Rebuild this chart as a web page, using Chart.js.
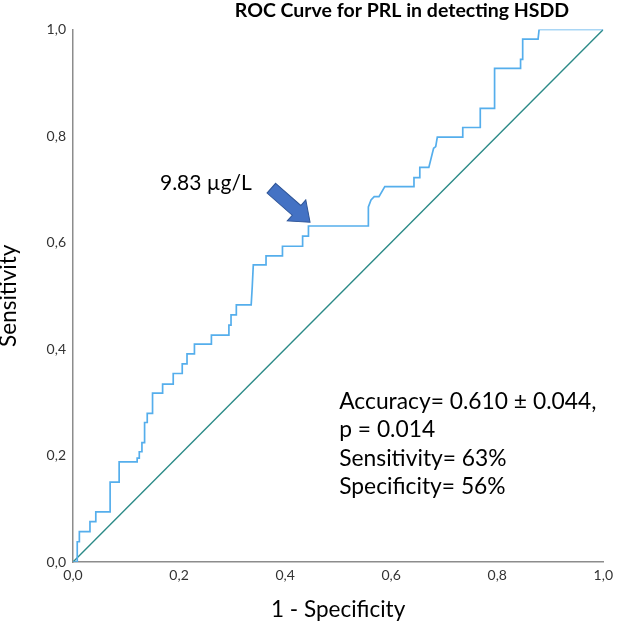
<!DOCTYPE html>
<html>
<head>
<meta charset="utf-8">
<script src="https://cdn.jsdelivr.net/npm/chart.js@4.4.1/dist/chart.umd.min.js"></script>
<style>
  html, body { margin: 0; padding: 0; background: #fff; }
  #wrap { width: 618px; height: 626px; }
</style>
</head>
<body>
<div id="wrap"><canvas id="rocChart"></canvas></div>
<script>
// ROC curve vertices (1 - specificity, sensitivity)
const fpr = [0, 0.008, 0.008, 0.012, 0.012, 0.032, 0.032, 0.043, 0.043, 0.070, 0.070,
  0.087, 0.087, 0.121, 0.121, 0.125, 0.125, 0.130, 0.130, 0.135, 0.135, 0.140, 0.140,
  0.150, 0.150, 0.169, 0.169, 0.189, 0.189, 0.206, 0.206, 0.215, 0.215, 0.229, 0.229,
  0.261, 0.261, 0.294, 0.294, 0.298, 0.298, 0.308, 0.308, 0.336, 0.338, 0.340, 0.364,
  0.364, 0.395, 0.395, 0.433, 0.433, 0.444, 0.444, 0.557, 0.557, 0.562, 0.568, 0.577,
  0.588, 0.643, 0.643, 0.654, 0.654, 0.671, 0.680, 0.684, 0.687, 0.735, 0.735, 0.768,
  0.768, 0.795, 0.795, 0.843, 0.844, 0.848, 0.848, 0.877, 0.879, 1.0];
const tpr = [0, 0, 0.038, 0.038, 0.057, 0.057, 0.076, 0.076, 0.094, 0.094, 0.150,
  0.150, 0.188, 0.188, 0.195, 0.195, 0.207, 0.207, 0.224, 0.224, 0.262, 0.262, 0.279,
  0.279, 0.317, 0.317, 0.334, 0.334, 0.354, 0.354, 0.372, 0.372, 0.391, 0.391, 0.409,
  0.409, 0.426, 0.426, 0.445, 0.445, 0.464, 0.464, 0.483, 0.483, 0.517, 0.558, 0.558,
  0.575, 0.575, 0.593, 0.593, 0.612, 0.612, 0.631, 0.631, 0.667, 0.680, 0.686, 0.686,
  0.705, 0.705, 0.722, 0.722, 0.741, 0.741, 0.777, 0.780, 0.798, 0.798, 0.816, 0.816,
  0.852, 0.852, 0.927, 0.927, 0.944, 0.944, 0.982, 0.982, 1.0, 1.0];
const refX = [0, 1];
const refY = [0, 1];
const tickValues = [0, 0.2, 0.4, 0.6, 0.8, 1.0];

const titleText = 'ROC Curve for PRL in detecting HSDD';
const cutoffLabel = '9.83 \u00B5g/L';
const statLines = ['Accuracy= 0.610 \u00B1 0.044,', 'p = 0.014', 'Sensitivity= 63%', 'Specificity= 56%'];

function toPoints(xs, ys) {
    return xs.map((x, i) => ({ x: x, y: ys[i] }));
}

function fmtTick(v) {
    return v.toFixed(1).replace('.', ',');
}

// title, arrow and text notes
const notesPlugin = {
    id: 'notes',
    afterDraw(chart) {
        const ctx = chart.ctx;
        const xs = chart.scales.x;
        const ys = chart.scales.y;
        ctx.save();

        ctx.fillStyle = '#000';
        ctx.font = 'bold 19.5px Lato';
        ctx.textAlign = 'center';
        ctx.textBaseline = 'middle';
        ctx.fillText(titleText, 402, 11);

        ctx.font = '21px Lato';
        ctx.textAlign = 'left';
        ctx.fillText(cutoffLabel, xs.getPixelForValue(0.164), ys.getPixelForValue(0.712));

        ctx.font = '22.8px Lato';
        let lineY = ys.getPixelForValue(0.301);
        statLines.forEach(line => {
            ctx.fillText(line, xs.getPixelForValue(0.502), lineY);
            lineY += 28.4;
        });

        // block arrow pointing at the cut-off
        const tx = xs.getPixelForValue(0.374), ty = ys.getPixelForValue(0.702);
        const hx = xs.getPixelForValue(0.447), hy = ys.getPixelForValue(0.638);
        const ang = Math.atan2(hy - ty, hx - tx);
        const len = Math.hypot(hx - tx, hy - ty);
        const headLen = 18, shaftW = 6.5, headW = 14;
        ctx.translate(tx, ty);
        ctx.rotate(ang);
        ctx.beginPath();
        ctx.moveTo(0, -shaftW);
        ctx.lineTo(len - headLen, -shaftW);
        ctx.lineTo(len - headLen, -headW);
        ctx.lineTo(len, 0);
        ctx.lineTo(len - headLen, headW);
        ctx.lineTo(len - headLen, shaftW);
        ctx.lineTo(0, shaftW);
        ctx.closePath();
        ctx.fillStyle = '#4472c4';
        ctx.fill();
        ctx.lineWidth = 1;
        ctx.strokeStyle = '#2f5597';
        ctx.stroke();
        ctx.restore();
    }
};

const ctx = document.getElementById('rocChart').getContext('2d');

new Chart(ctx, {
    type: 'scatter',
    data: {
        datasets: [
            {
                label: 'PRL',
                data: toPoints(fpr, tpr),
                showLine: true,
                borderColor: '#55aeec',
                borderWidth: 1.7,
                pointRadius: 0,
                tension: 0
            },
            {
                label: 'Reference',
                data: toPoints(refX, refY),
                showLine: true,
                borderColor: '#2b8a87',
                borderWidth: 1.4,
                pointRadius: 0
            }
        ]
    },
    options: {
        responsive: true,
        maintainAspectRatio: false,
        animation: false,
        layout: { padding: { top: 29.5, right: 13, left: 0, bottom: 0 } },
        plugins: {
            legend: { display: false },
            tooltip: { enabled: false }
        },
        scales: {
            x: {
                type: 'linear',
                min: 0,
                max: 1,
                afterBuildTicks(scale) {
                    scale.ticks = tickValues.map(v => ({ value: v }));
                },
                afterFit(scale) { scale.height = 64; },
                grid: { display: false, drawTicks: false },
                border: { display: true, color: '#8c8c8c', width: 1.5 },
                ticks: {
                    callback: fmtTick,
                    color: '#333',
                    font: { family: 'Lato', size: 14 },
                    padding: 5,
                    maxRotation: 0
                },
                title: {
                    display: true,
                    text: '1 - Specificity',
                    color: '#000',
                    font: { family: 'Lato', size: 22.5, lineHeight: 1 },
                    padding: { top: 0, bottom: 4.8 }
                }
            },
            y: {
                type: 'linear',
                min: 0,
                max: 1,
                afterBuildTicks(scale) {
                    scale.ticks = tickValues.map(v => ({ value: v }));
                },
                afterFit(scale) { scale.width = 73; },
                grid: { display: false, drawTicks: false },
                border: { display: true, color: '#8c8c8c', width: 1.5 },
                ticks: {
                    callback: fmtTick,
                    color: '#333',
                    font: { family: 'Lato', size: 14 },
                    padding: 7
                },
                title: {
                    display: true,
                    text: 'Sensitivity',
                    color: '#000',
                    font: { family: 'Lato', size: 22.5, lineHeight: 0.8 },
                    padding: { top: 0, bottom: 0 }
                }
            }
        }
    },
    plugins: [notesPlugin]
});
</script>
</body>
</html>
